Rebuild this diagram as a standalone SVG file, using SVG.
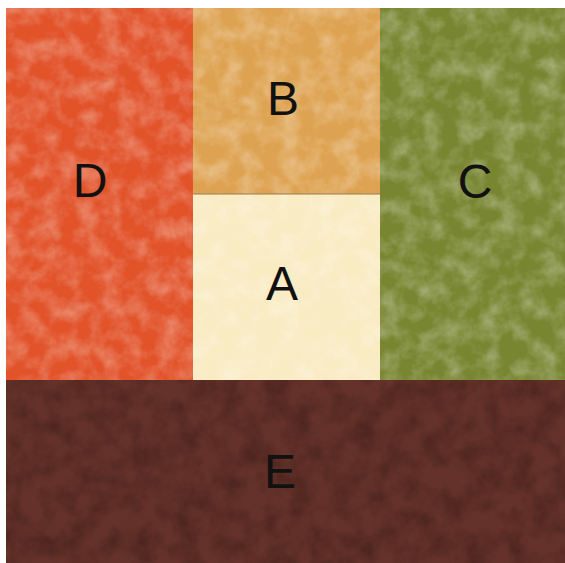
<svg xmlns="http://www.w3.org/2000/svg" width="565" height="563" viewBox="0 0 565 563">
  <style>
    .lbl { font-family: "Liberation Sans", Arial, sans-serif; font-size: 48px; fill: #111; text-anchor: middle; }
  </style>
  <defs>
    <filter id="light" x="0" y="0" width="100%" height="100%" color-interpolation-filters="sRGB">
      <feTurbulence type="fractalNoise" baseFrequency="0.05" numOctaves="4" seed="5" result="n"/>
      <feColorMatrix in="n" type="matrix" values="0 0 0 0 1  0 0 0 0 1  0 0 0 0 1  0.6 0 0 0 -0.22" result="w"/>
      <feComposite in="w" in2="SourceGraphic" operator="in" result="w2"/>
      <feMerge><feMergeNode in="SourceGraphic"/><feMergeNode in="w2"/></feMerge>
    </filter>
    <filter id="dark" x="0" y="0" width="100%" height="100%" color-interpolation-filters="sRGB">
      <feTurbulence type="fractalNoise" baseFrequency="0.045" numOctaves="4" seed="9" result="n"/>
      <feColorMatrix in="n" type="matrix" values="0 0 0 0 0.15  0 0 0 0 0.06  0 0 0 0 0.04  0.7 0 0 0 -0.25" result="w"/>
      <feComposite in="w" in2="SourceGraphic" operator="in" result="w2"/>
      <feMerge><feMergeNode in="SourceGraphic"/><feMergeNode in="w2"/></feMerge>
    </filter>
  </defs>
  <rect x="0" y="0" width="565" height="563" fill="#ffffff"/>
  <g id="D">
    <rect x="6" y="8" width="187" height="372" fill="#e2532a" filter="url(#light)"/>
    <text class="lbl" x="90" y="197">D</text>
  </g>
  <g id="B">
    <rect x="193" y="8" width="187" height="186" fill="#dea352" filter="url(#light)"/>
    <text class="lbl" x="283" y="115">B</text>
  </g>
  <g id="A">
    <rect x="193" y="194" width="187" height="186" fill="#f9ebc2" filter="url(#light)"/>
    <line x1="193" y1="194" x2="380" y2="194" stroke="#9a7a4a" stroke-width="1"/>
    <text class="lbl" x="282" y="300">A</text>
  </g>
  <g id="C">
    <rect x="380" y="8" width="185" height="372" fill="#788631" filter="url(#light)"/>
    <text class="lbl" x="475" y="198">C</text>
  </g>
  <g id="E">
    <rect x="6" y="380" width="559" height="183" fill="#64322a" filter="url(#dark)"/>
    <text class="lbl" x="280" y="488">E</text>
  </g>
  <g id="connectors"></g>
</svg>
